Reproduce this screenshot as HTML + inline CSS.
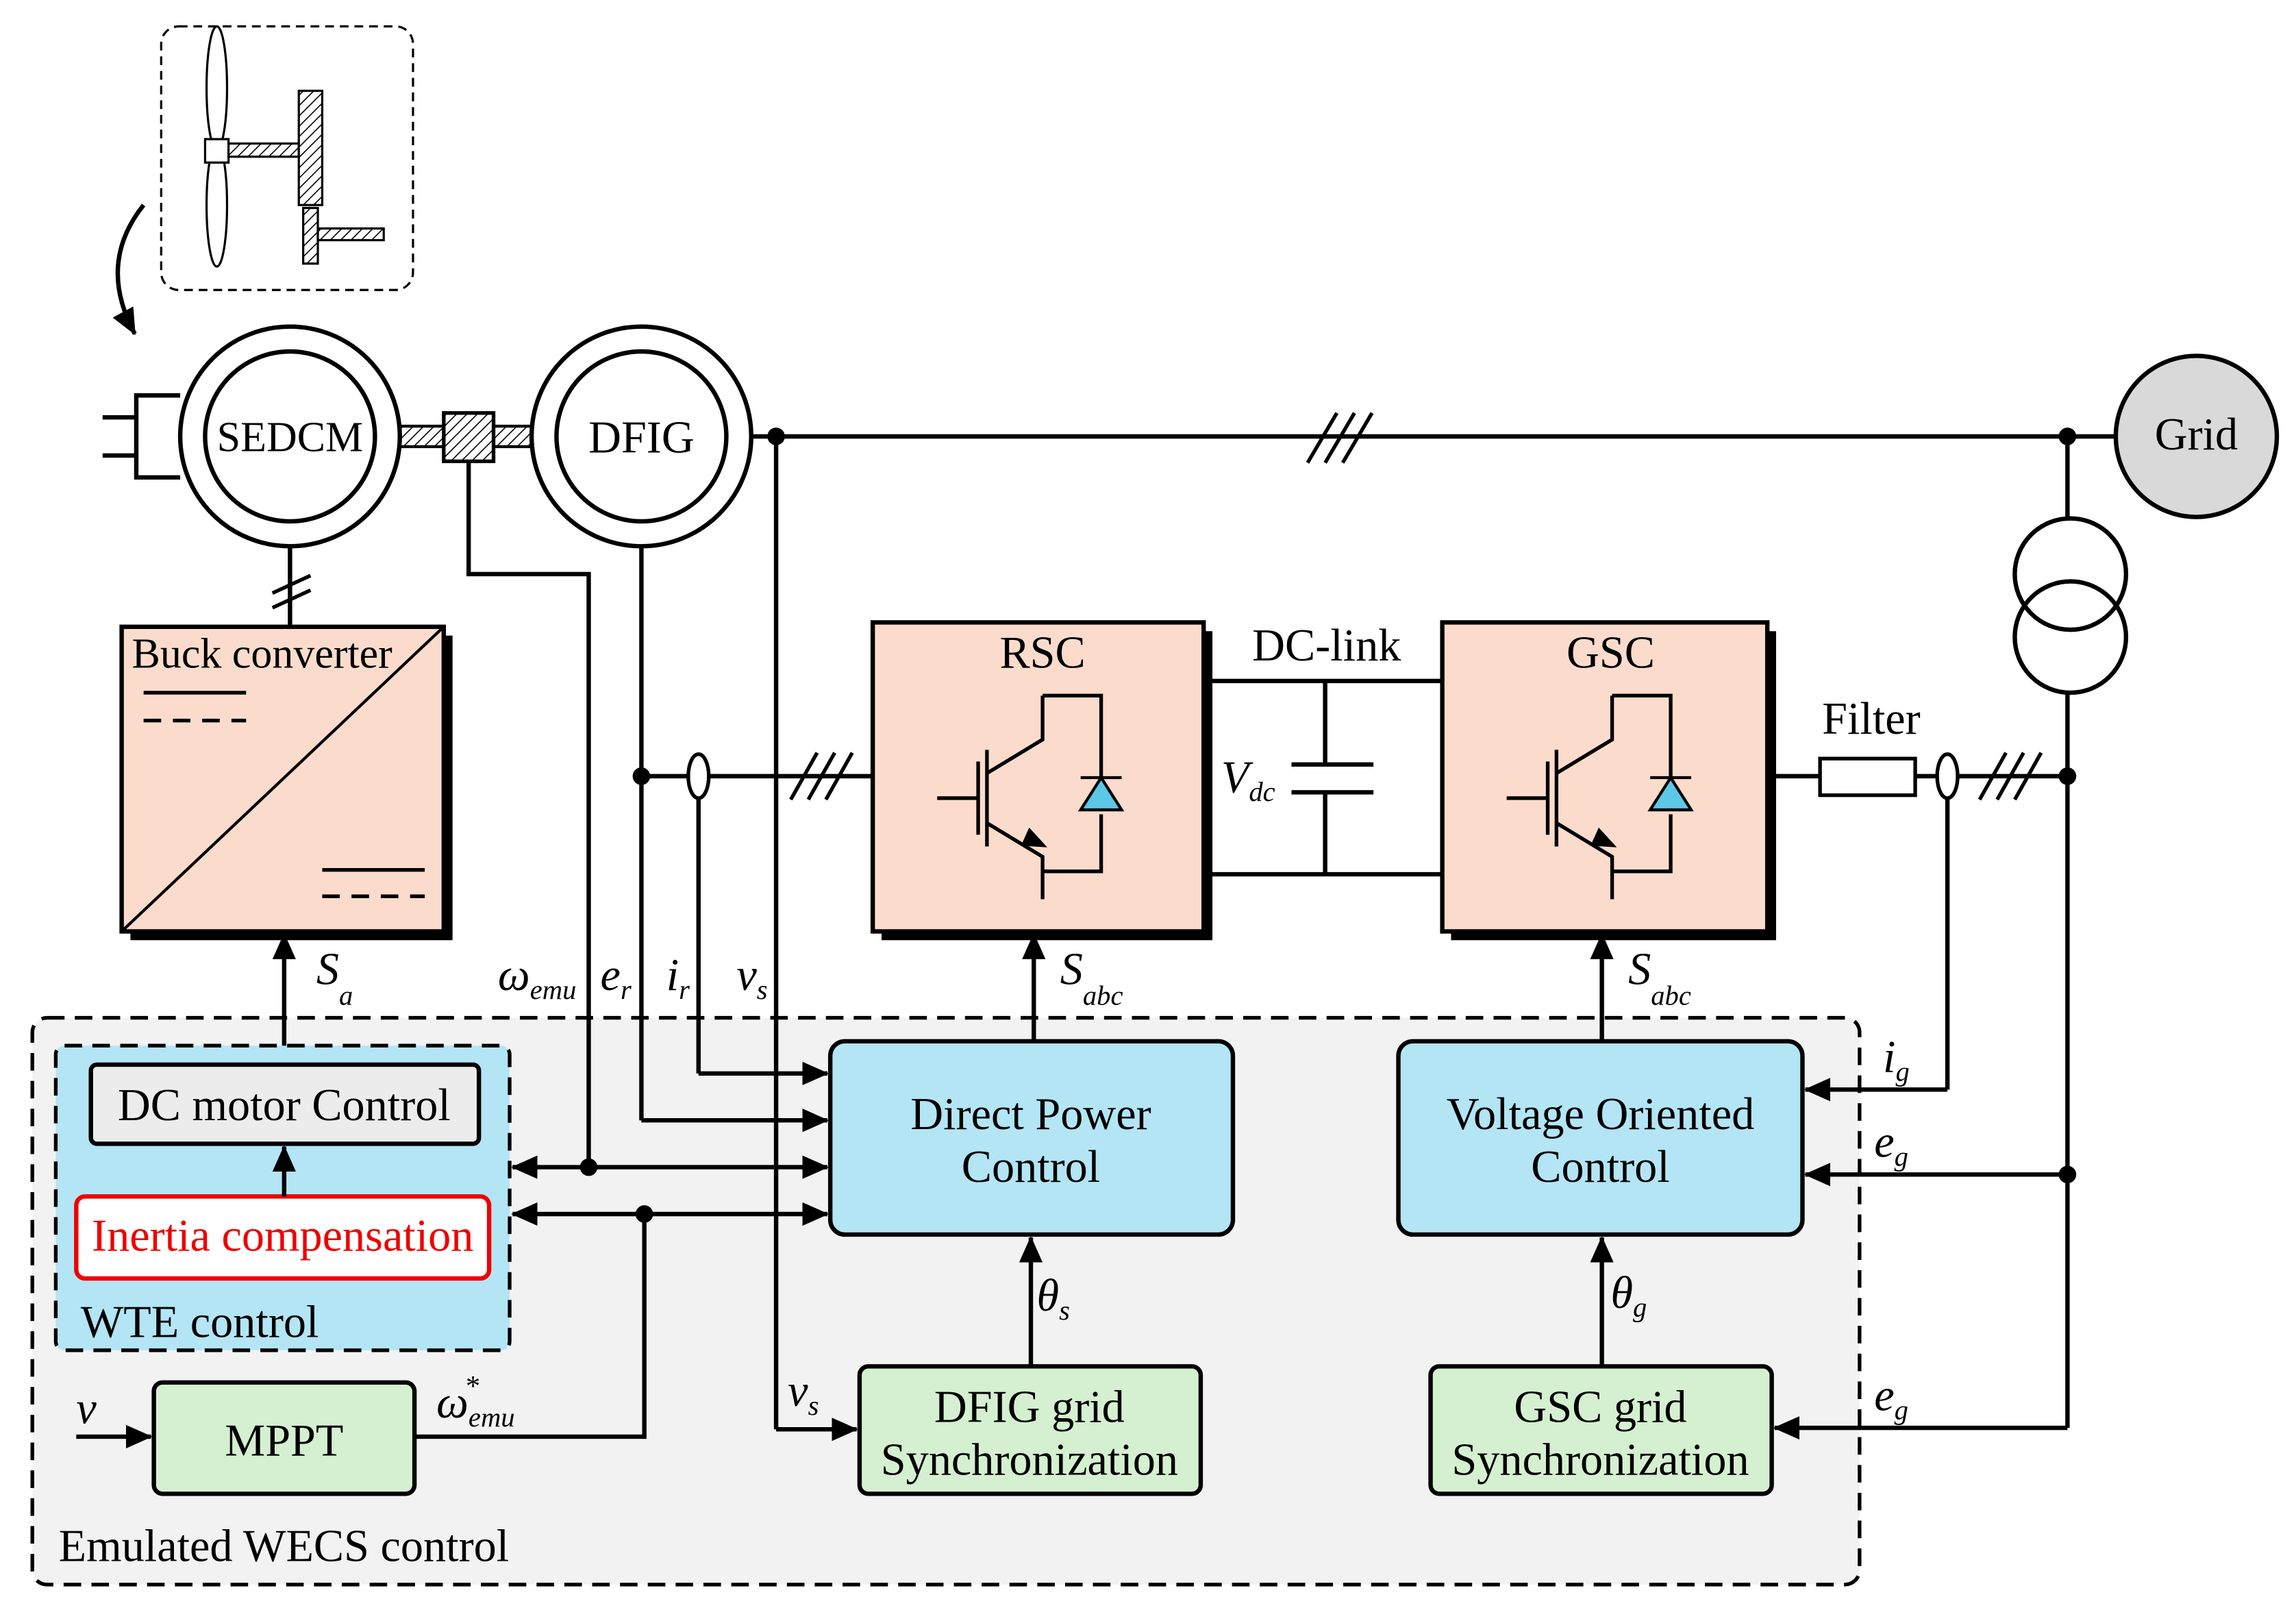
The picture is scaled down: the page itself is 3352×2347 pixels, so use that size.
<!DOCTYPE html>
<html><head><meta charset="utf-8"><style>html,body{margin:0;padding:0;background:#fff}svg{display:block}text{font-family:"Liberation Serif",serif}</style></head><body>
<svg width="3352" height="2347" viewBox="0 0 1568 1098" xmlns="http://www.w3.org/2000/svg">
<defs>
<marker id="b" markerWidth="18" markerHeight="16" refX="17" refY="8" orient="auto" markerUnits="userSpaceOnUse"><path d="M0,0 L18,8 L0,16 z" fill="#000"/></marker>
<pattern id="h" width="5" height="5" patternUnits="userSpaceOnUse" patternTransform="rotate(45)"><rect width="5" height="5" fill="#fff"/><line x1="0" y1="0" x2="0" y2="5" stroke="#000" stroke-width="1.5"/></pattern>
</defs>
<g stroke="#000" stroke-width="3" fill="none">
<rect x="110" y="18" width="172" height="180" rx="12" stroke-width="1.5" stroke-dasharray="6,4"/>
<ellipse cx="148" cy="60" rx="7" ry="42" stroke-width="1.5" fill="#fff"/>
<ellipse cx="148" cy="140" rx="7" ry="42" stroke-width="1.5" fill="#fff"/>
<rect x="140" y="95" width="16" height="16" stroke-width="1.5" fill="#fff"/>
<rect x="156" y="98" width="48" height="9" stroke-width="1.5" fill="url(#h)"/>
<rect x="204" y="62" width="16" height="78" stroke-width="1.5" fill="url(#h)"/>
<rect x="207" y="142" width="10" height="38" stroke-width="1.5" fill="url(#h)"/>
<rect x="217" y="156" width="45" height="8" stroke-width="1.5" fill="url(#h)"/>
<path d="M98,140 Q66,180 92,228" stroke-width="3" marker-end="url(#b)"/>
<rect x="258" y="291" width="122" height="14" stroke-width="2" fill="url(#h)"/>
<rect x="303" y="282" width="34" height="33" stroke-width="2.5" fill="url(#h)"/>
<circle cx="198" cy="298" r="75" fill="#fff"/><circle cx="198" cy="298" r="58"/>
<circle cx="438" cy="298" r="75" fill="#fff"/><circle cx="438" cy="298" r="58"/>
<path d="M123,270 H93 V326 H123 M93,285 H70 M93,311 H70"/>
<circle cx="1500" cy="298" r="55" fill="#d9d9d9"/>
<line x1="513" y1="298" x2="1445" y2="298"/>
<path d="M893,316 L913,282 M905,316 L925,282 M917,316 L937,282" stroke-width="2.5"/>
<circle cx="1414" cy="392" r="38"/><circle cx="1414" cy="435" r="38"/>
<line x1="1412" y1="298" x2="1412" y2="354"/>
<line x1="1412" y1="473" x2="1412" y2="975"/>
<line x1="198" y1="373" x2="198" y2="428"/>
<path d="M186,405 L212,393 M186,415 L212,403" stroke-width="2.5"/>
<rect x="89" y="434" width="220" height="208" fill="#000" stroke="none"/>
<rect x="83" y="428" width="220" height="208" fill="#fbdccc"/>
<line x1="83" y1="636" x2="303" y2="428" stroke-width="2"/>
<path d="M98,473 H168 M220,594 H290" stroke-width="2.5"/>
<path d="M98,492 H168 M220,612 H290" stroke-width="2.5" stroke-dasharray="12,8"/>
<rect x="602" y="431" width="226" height="211" fill="#000" stroke="none"/>
<rect x="596" y="425" width="226" height="211" fill="#fbdccc"/>
<rect x="991" y="431" width="222" height="211" fill="#000" stroke="none"/>
<rect x="985" y="425" width="222" height="211" fill="#fbdccc"/>
<g id="igbt"><path d="M640,545 H668 M668,520 V570 M674,512 V578 M674,528 L712,505 V475 M674,562 L712,585 V614 M712,475 H752 V530 M752,556 V595 H712" stroke-width="2.5"/><path d="M738,553 L766,553 L752,531 Z M738,531 H766" fill="#5bc8e8" stroke-width="2"/><path d="M703,566 L714,578 L698,577 Z" fill="#000" stroke-width="1"/></g>
<use href="#igbt" x="389"/>
<line x1="822" y1="465" x2="985" y2="465"/><line x1="822" y1="597" x2="985" y2="597"/>
<path d="M905,465 V522 M882,522 H938 M882,541 H938 M905,541 V597"/>
<line x1="438" y1="530" x2="596" y2="530"/>
<ellipse cx="477" cy="530" rx="7" ry="15" fill="#fff" stroke-width="2.5"/>
<path d="M540,546 L558,514 M552,546 L570,514 M564,546 L582,514" stroke-width="2.5"/>
<line x1="1207" y1="530" x2="1243" y2="530"/><rect x="1243" y="518" width="65" height="25" fill="#fff" stroke-width="2.5"/>
<line x1="1308" y1="530" x2="1412" y2="530"/>
<ellipse cx="1330" cy="530" rx="7" ry="15" fill="#fff" stroke-width="2.5"/>
<path d="M1352,546 L1370,514 M1364,546 L1382,514 M1376,546 L1394,514" stroke-width="2.5"/>
<rect x="22" y="695" width="1248" height="387" rx="10" fill="#f2f2f2" stroke-width="2.5" stroke-dasharray="12,7"/>
<rect x="38" y="714" width="310" height="208" rx="6" fill="#b3e5f5" stroke-width="2.5" stroke-dasharray="12,7"/>
<rect x="62" y="727" width="265" height="54" rx="4" fill="#ececec"/>
<rect x="52" y="817" width="282" height="56" rx="6" fill="#fff" stroke="#e00"/>
<line x1="194" y1="817" x2="194" y2="783" marker-end="url(#b)"/>
<line x1="194" y1="714" x2="194" y2="638" marker-end="url(#b)"/>
<rect x="567" y="711" width="275" height="132" rx="10" fill="#b3e5f5"/>
<rect x="955" y="711" width="276" height="132" rx="10" fill="#b3e5f5"/>
<rect x="105" y="944" width="178" height="76" rx="6" fill="#d5f0d0"/>
<rect x="587" y="933" width="233" height="87" rx="6" fill="#d5f0d0"/>
<rect x="977" y="933" width="233" height="87" rx="6" fill="#d5f0d0"/>
<line x1="706" y1="711" x2="706" y2="638" marker-end="url(#b)"/>
<line x1="1094" y1="711" x2="1094" y2="638" marker-end="url(#b)"/>
<line x1="704" y1="933" x2="704" y2="845" marker-end="url(#b)"/>
<line x1="1094" y1="933" x2="1094" y2="845" marker-end="url(#b)"/>
<path d="M320,315 V392 H402 V797"/>
<line x1="438" y1="373" x2="438" y2="765"/><line x1="438" y1="765" x2="565" y2="765" marker-end="url(#b)"/>
<path d="M477,545 V733"/><line x1="477" y1="733" x2="565" y2="733" marker-end="url(#b)"/>
<line x1="402" y1="797" x2="565" y2="797" marker-end="url(#b)"/>
<line x1="402" y1="797" x2="350" y2="797" marker-end="url(#b)"/>
<line x1="440" y1="829" x2="565" y2="829" marker-end="url(#b)"/>
<line x1="440" y1="829" x2="350" y2="829" marker-end="url(#b)"/>
<path d="M283,981 H440 V829"/>
<line x1="52" y1="981" x2="103" y2="981" marker-end="url(#b)"/>
<path d="M530,298 V976"/><line x1="530" y1="976" x2="585" y2="976" marker-end="url(#b)"/>
<path d="M1330,545 V744"/><line x1="1330" y1="744" x2="1233" y2="744" marker-end="url(#b)"/>
<line x1="1412" y1="802" x2="1233" y2="802" marker-end="url(#b)"/>
<line x1="1412" y1="975" x2="1212" y2="975" marker-end="url(#b)"/>
</g>
<g fill="#000">
<circle cx="530" cy="298" r="6"/><circle cx="1412" cy="298" r="6"/><circle cx="438" cy="530" r="6"/><circle cx="1412" cy="530" r="6"/>
<circle cx="402" cy="797" r="6"/><circle cx="440" cy="829" r="6"/><circle cx="1412" cy="802" r="6"/>
</g>
<g font-size="31" fill="#000">
<text x="198" y="308" text-anchor="middle" font-size="29">SEDCM</text>
<text x="438" y="309" text-anchor="middle">DFIG</text>
<text x="1500" y="307" text-anchor="middle">Grid</text>
<text x="90" y="456" font-size="29">Buck converter</text>
<text x="712" y="456" text-anchor="middle">RSC</text>
<text x="1100" y="456" text-anchor="middle">GSC</text>
<text x="906" y="451" text-anchor="middle">DC-link</text>
<text x="1278" y="501" text-anchor="middle">Filter</text>
<text x="834" y="541" font-style="italic">V<tspan font-size="19" dy="6">dc</tspan></text>
<text x="216" y="672" font-style="italic">S<tspan font-size="19" dy="14">a</tspan></text>
<text x="340" y="676" font-style="italic">ω<tspan font-size="19" dy="6">emu</tspan></text>
<text x="410" y="676" font-style="italic">e<tspan font-size="19" dy="6">r</tspan></text>
<text x="455" y="676" font-style="italic">i<tspan font-size="19" dy="6">r</tspan></text>
<text x="503" y="676" font-style="italic">v<tspan font-size="19" dy="6">s</tspan></text>
<text x="724" y="672" font-style="italic">S<tspan font-size="19" dy="14">abc</tspan></text>
<text x="1112" y="672" font-style="italic">S<tspan font-size="19" dy="14">abc</tspan></text>
<text x="194" y="765" text-anchor="middle">DC motor Control</text>
<text x="193" y="854" text-anchor="middle" fill="#e00">Inertia compensation</text>
<text x="55" y="913">WTE control</text>
<text x="704" y="771" text-anchor="middle">Direct Power</text>
<text x="704" y="807" text-anchor="middle">Control</text>
<text x="1093" y="771" text-anchor="middle">Voltage Oriented</text>
<text x="1093" y="807" text-anchor="middle">Control</text>
<text x="708" y="895" font-style="italic">θ<tspan font-size="19" dy="6">s</tspan></text>
<text x="1100" y="893" font-style="italic">θ<tspan font-size="19" dy="6">g</tspan></text>
<text x="1286" y="732" font-style="italic">i<tspan font-size="19" dy="6">g</tspan></text>
<text x="1280" y="790" font-style="italic">e<tspan font-size="19" dy="6">g</tspan></text>
<text x="1280" y="963" font-style="italic">e<tspan font-size="19" dy="6">g</tspan></text>
<text x="538" y="960" font-style="italic">v<tspan font-size="19" dy="6">s</tspan></text>
<text x="52" y="972" font-style="italic">v</text>
<text x="298" y="968" font-style="italic">ω<tspan font-size="19" dy="6">emu</tspan></text>
<text x="318" y="953" font-size="20">*</text>
<text x="194" y="994" text-anchor="middle">MPPT</text>
<text x="703" y="971" text-anchor="middle">DFIG grid</text>
<text x="703" y="1007" text-anchor="middle">Synchronization</text>
<text x="1093" y="971" text-anchor="middle">GSC grid</text>
<text x="1093" y="1007" text-anchor="middle">Synchronization</text>
<text x="40" y="1066">Emulated WECS control</text>
</g>
</svg>
</body></html>
